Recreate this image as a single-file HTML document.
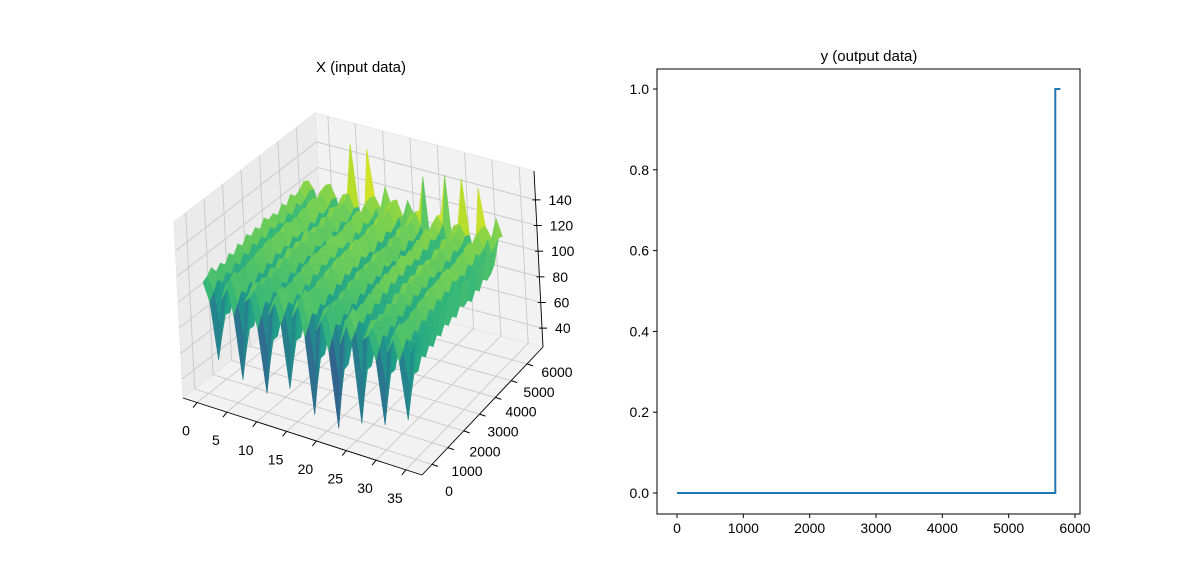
<!DOCTYPE html>
<html><head><meta charset="utf-8"><style>
body{margin:0;background:#fff}
svg{display:block;font-family:"Liberation Sans","DejaVu Sans",sans-serif}
</style></head><body>
<svg id="fig" width="1200" height="577" viewBox="0 0 1200 577">
<rect width="1200" height="577" fill="#fff"/>
<text x="361" y="72" font-size="15" text-anchor="middle">X (input data)</text>
<text x="869" y="61" font-size="15" text-anchor="middle">y (output data)</text>
<g id="g3d"></g>
<g id="g2d"></g>
</svg>
<script>
// ---- 3D surface data ----
const xProfile = [10,4,-14,6,12,2,-18,8,10,0,-20,6,12,4,-16,8,14,2,-22,6,10,0,-24,4,12,6,-20,8,10,2,-18,6,12,4,-14,8];
const yProfile = [88,96,104,100,106,102,108,104,110,106,112,108,112,108,114,110,112,108,114,110,116,112,114,118,116];
const frontWeight = [2.4,1.8,1.4,1.2,1,1,1,1,1,1,1,1,1,1,1,1,1,1,1,1,1,1,1,1,1];
const backSpike = [0,0,0,0,0,0,0,0,38,0,0,42,0,0,38,0,0,0,38,0,0,38,0,0,0,38,0,0,35,0,0,35,0,0,35,0];
const xTicks3 = [0,5,10,15,20,25,30,35];
const yTicks3 = [0,1000,2000,3000,4000,5000,6000];
const zTicks3 = [40,60,80,100,120,140];
// ---- step line data ----
const stepX = [0,5703,5703,5780];
const stepY = [0,0,1,1];
const xTicks2 = [0,1000,2000,3000,4000,5000,6000];
const yTicks2 = [0,0.2,0.4,0.6,0.8,1.0];

const NS="http://www.w3.org/2000/svg";
function mk(tag,attrs,parent){const e=document.createElementNS(NS,tag);for(const k in attrs)e.setAttribute(k,attrs[k]);parent.appendChild(e);return e;}

const XMIN=-2.36,XMAX=37.7,YMIN=-634,YMAX=7009,ZMIN=25.3,ZMAX=162.5;
const O=[183,398],EX=[239,77],EY=[141,-109],D=[-20,-19],EZ=[-9,-176];
function P(x,y,z){const a=(x-XMIN)/(XMAX-XMIN),b=(y-YMIN)/(YMAX-YMIN),c=(z-ZMIN)/(ZMAX-ZMIN);
 return [O[0]+a*EX[0]+b*EY[0]+a*b*D[0]+c*EZ[0], O[1]+a*EX[1]+b*EY[1]+a*b*D[1]+c*EZ[1]];}
function pts(arr){return arr.map(p=>p[0].toFixed(1)+","+p[1].toFixed(1)).join(" ");}
const g3=document.getElementById('g3d');
const floor=mk('polygon',{points:pts([P(XMIN,YMIN,ZMIN),P(XMAX,YMIN,ZMIN),P(XMAX,YMAX,ZMIN),P(XMIN,YMAX,ZMIN)]),fill:'#f2f2f2',stroke:'#e6e6e6'},g3);


const lp=mk('polygon',{points:pts([P(XMIN,YMIN,ZMIN),P(XMIN,YMAX,ZMIN),P(XMIN,YMAX,ZMAX),P(XMIN,YMIN,ZMAX)]),fill:'#ebebeb',stroke:'#e6e6e6'},g3);


const bp=mk('polygon',{points:pts([P(XMIN,YMAX,ZMIN),P(XMAX,YMAX,ZMIN),P(XMAX,YMAX,ZMAX),P(XMIN,YMAX,ZMAX)]),fill:'#f2f2f2',stroke:'#e6e6e6'},g3);


const gs={stroke:'#c8c8c8','stroke-width':0.9,fill:'none'};
xTicks3.forEach(v=>{mk('polyline',Object.assign({points:pts([P(v,YMIN,ZMIN),P(v,YMAX,ZMIN),P(v,YMAX,ZMAX)])},gs),g3);});
yTicks3.forEach(v=>{mk('polyline',Object.assign({points:pts([P(XMAX,v,ZMIN),P(XMIN,v,ZMIN),P(XMIN,v,ZMAX)])},gs),g3);});
zTicks3.forEach(v=>{mk('polyline',Object.assign({points:pts([P(XMIN,YMIN,v),P(XMIN,YMAX,v),P(XMAX,YMAX,v)])},gs),g3);});
function ln(a,b){mk('line',{x1:a[0],y1:a[1],x2:b[0],y2:b[1],stroke:'#000','stroke-width':0.9},g3);}
ln(P(XMIN,YMIN,ZMIN),P(XMAX,YMIN,ZMIN));
ln(P(XMAX,YMIN,ZMIN),P(XMAX,YMAX,ZMIN));
ln(P(XMAX,YMAX,ZMIN),P(XMAX,YMAX,ZMAX));
function viridis(t){const s=[[68,1,84],[72,40,120],[62,74,137],[49,104,142],[38,130,142],[31,158,137],[53,183,121],[109,205,89],[180,222,44],[253,231,37]];
 t=Math.max(0,Math.min(1,t))*(s.length-1);const i=Math.min(Math.floor(t),s.length-2),f=t-i;
 return 'rgb('+s[i].map((c,k)=>Math.round(c+(s[i+1][k]-c)*f)).join(',')+')';}
const nx=xProfile.length,ny=yProfile.length,dy=5800/(ny-1);
function Z(i,j){return yProfile[j]+xProfile[i]*frontWeight[j]+(j===ny-1?backSpike[i]:0);}
let zmn=1e9,zmx=-1e9;for(let i=0;i<nx;i++)for(let j=0;j<ny;j++){const z=Z(i,j);zmn=Math.min(zmn,z);zmx=Math.max(zmx,z);}
const cmax=zmn+(zmx-zmn)*0.85;
const cells=[];
for(let i=0;i<nx-1;i++)for(let j=0;j<ny-1;j++){
 const c=[[i,j],[i+1,j],[i+1,j+1],[i,j+1]];
 const zs=c.map(q=>Z(q[0],q[1]));const za=(zs[0]+zs[1]+zs[2]+zs[3])/4;
 const depth=P(i+0.5,(j+0.5)*dy,ZMIN)[1];
 cells.push({c,zs,za,depth});}
cells.sort((a,b)=>a.depth-b.depth);
const sg=mk('g',{},g3);


cells.forEach(cl=>{const col=viridis((cl.za-zmn)/(cmax-zmn));
 const p=mk('polygon',{points:pts(cl.c.map((q,k)=>P(q[0],q[1]*dy,cl.zs[k]))),fill:col,stroke:col,'stroke-width':0.6},sg);
 
 });
xTicks3.forEach(v=>{const a=P(v,YMIN,ZMIN);mk('line',{x1:a[0],y1:a[1],x2:a[0]-4,y2:a[1]+5,stroke:'#000'},g3);
 const t=mk('text',{x:a[0]-11,y:a[1]+33,'font-size':14,'text-anchor':'middle'},g3);t.textContent=v;
 
 });
yTicks3.forEach(v=>{const a=P(XMAX,v,ZMIN);mk('line',{x1:a[0],y1:a[1],x2:a[0]+6,y2:a[1]+2,stroke:'#000'},g3);
 const f=v/6000;
 const t=mk('text',{x:449+f*108,y:496-f*119,'font-size':14,'text-anchor':'middle'},g3);t.textContent=v;
 
 });
zTicks3.forEach(v=>{const a=P(XMAX,YMAX,v);mk('line',{x1:a[0]-3,y1:a[1],x2:a[0]+5,y2:a[1],stroke:'#000'},g3);
 const t=mk('text',{x:a[0]+13,y:a[1]+5,'font-size':14},g3);t.textContent=v;
 
 });

const g2=document.getElementById('g2d');
const L=657,R=1080,T=69,B=514;
const sx=v=>677+v*(1075-677)/6000, sy=v=>493-v*(493-89);
const sl=mk('polyline',{points:stepX.map((x,i)=>sx(x)+','+sy(stepY[i])).join(' '),fill:'none',stroke:'#1f77b4','stroke-width':2},g2);


const fr=mk('rect',{x:L,y:T,width:R-L,height:B-T,fill:'none',stroke:'#000','stroke-width':1},g2);


xTicks2.forEach(v=>{const x=sx(v);mk('line',{x1:x,y1:B,x2:x,y2:B+4,stroke:'#000'},g2);
 const t=mk('text',{x:x,y:B+19,'font-size':14,'text-anchor':'middle'},g2);t.textContent=v;
 
 });
yTicks2.forEach(v=>{const y=sy(v);mk('line',{x1:L,y1:y,x2:L-4,y2:y,stroke:'#000'},g2);
 const t=mk('text',{x:L-8,y:y+5,'font-size':14,'text-anchor':'end'},g2);t.textContent=v.toFixed(1);
 
 });
</script>
</body></html>
